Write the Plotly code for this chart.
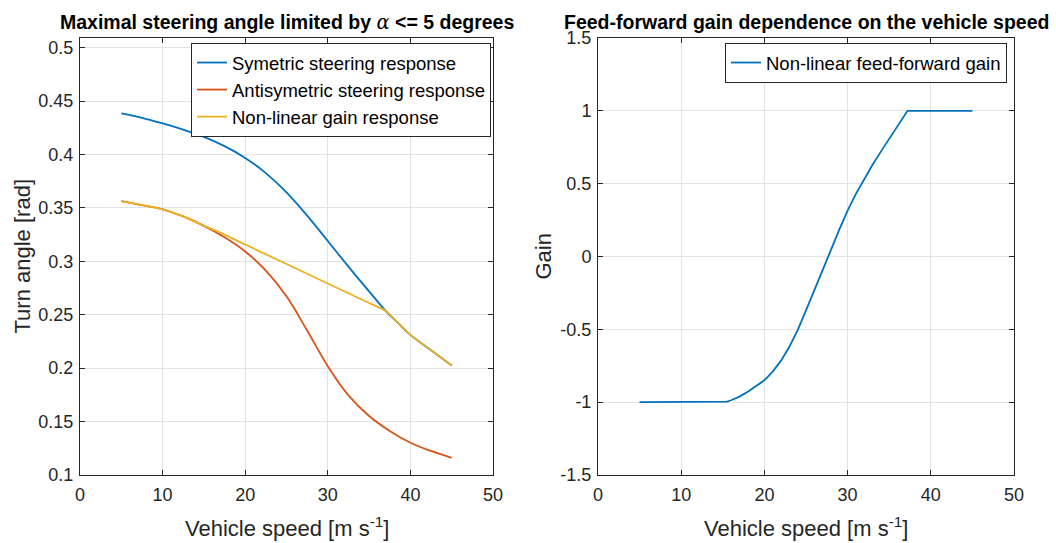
import plotly.graph_objects as go

# ---------------- data ----------------
speed_sym = [5, 7.5, 10, 12.5, 15, 17.5, 20, 22.5, 25, 27.5, 30, 32.5, 35, 37, 38.5, 40, 42.5, 45]
angle_sym = [0.4385, 0.4343, 0.429, 0.4232, 0.4165, 0.4078, 0.3968, 0.3825, 0.3645, 0.3428,
             0.319, 0.295, 0.2718, 0.2537, 0.2423, 0.2312, 0.2167, 0.2025]

speed_anti = [5, 7.5, 10, 12.5, 15, 17.5, 20, 22.5, 25, 27.5, 30, 32.5, 35, 37.5, 40, 42.5, 45]
angle_anti = [0.3563, 0.3525, 0.3487, 0.342, 0.3332, 0.3225, 0.3092, 0.2912, 0.2672, 0.2352,
              0.2018, 0.1745, 0.1552, 0.1412, 0.1302, 0.1225, 0.116]

speed_nl = [5, 7.5, 10, 12.5, 15, 16.5, 20, 25, 30, 35, 37, 38.5, 40, 42.5, 45]
angle_nl = [0.3563, 0.3525, 0.3487, 0.342, 0.3332, 0.3285, 0.3157, 0.2975, 0.2792, 0.261,
            0.2537, 0.2423, 0.2312, 0.2167, 0.2025]

speed_gain = [5, 15, 15.5, 16, 17, 18, 19, 20, 21, 22, 23, 24, 25, 26, 27, 28, 29, 30, 31, 32, 33,
              34, 35, 36, 37, 37.2, 45]
gain = [-1, -1, -0.996, -0.987, -0.962, -0.929, -0.892, -0.85, -0.79, -0.715, -0.62, -0.505,
        -0.37, -0.235, -0.095, 0.045, 0.185, 0.315, 0.43, 0.535, 0.63, 0.72, 0.81, 0.9, 0.99,
        1.0, 1.0]

left_yticks = [0.1, 0.15, 0.2, 0.25, 0.3, 0.35, 0.4, 0.45, 0.5]
left_ytext = ["0.1", "0.15", "0.2", "0.25", "0.3", "0.35", "0.4", "0.45", "0.5"]
right_yticks = [-1.5, -1, -0.5, 0, 0.5, 1, 1.5]
right_ytext = ["-1.5", "-1", "-0.5", "0", "0.5", "1", "1.5"]
xticks = [0, 10, 20, 30, 40, 50]

# ---------------- style ----------------
BLUE, ORANGE, YELLOW = "#0072BD", "#D95319", "#EDB120"
AX = "#262626"
GRID = "#e3e3e3"
FONT = "Liberation Sans, Arial, Helvetica, sans-serif"
W, H = 1056, 543

fig = go.Figure()
fig.add_trace(go.Scatter(x=speed_sym, y=angle_sym, mode="lines", name="Symetric steering response",
                         line=dict(color=BLUE, width=1.8, shape="spline"), xaxis="x", yaxis="y",
                         legend="legend"))
fig.add_trace(go.Scatter(x=speed_anti, y=angle_anti, mode="lines", name="Antisymetric steering response",
                         line=dict(color=ORANGE, width=1.8, shape="spline"), xaxis="x", yaxis="y",
                         legend="legend"))
fig.add_trace(go.Scatter(x=speed_nl, y=angle_nl, mode="lines", name="Non-linear gain response",
                         line=dict(color=YELLOW, width=1.8, shape="spline", smoothing=0.6),
                         xaxis="x", yaxis="y", legend="legend"))
fig.add_trace(go.Scatter(x=speed_gain, y=gain, mode="lines", name="Non-linear feed-forward gain",
                         line=dict(color=BLUE, width=1.8), xaxis="x2", yaxis="y2", legend="legend2"))


def px_x(p):
    return p / W


def px_y(p):
    return 1 - p / H


ydom = [px_y(475), px_y(38)]
axis_common = dict(showline=True, linecolor=AX, linewidth=1, mirror="ticks", ticks="inside",
                   ticklen=5, tickcolor=AX, showgrid=True, gridcolor=GRID, gridwidth=1,
                   zeroline=False, automargin=False,
                   tickfont=dict(family=FONT, size=18, color=AX))

fig.update_layout(
    template="none",
    width=W, height=H,
    margin=dict(l=0, r=0, t=0, b=0, pad=0, autoexpand=False),
    paper_bgcolor="white", plot_bgcolor="white",
    font=dict(family=FONT, color=AX),
    xaxis=dict(domain=[px_x(80), px_x(493)], range=[0, 50], tickvals=xticks, anchor="y",
               ticklabelstandoff=3, **axis_common),
    yaxis=dict(domain=ydom, range=[0.1, 0.509], tickvals=left_yticks, ticktext=left_ytext,
               anchor="x", ticklabelstandoff=2, **axis_common),
    xaxis2=dict(domain=[px_x(598), px_x(1014)], range=[0, 50], tickvals=xticks, anchor="y2",
                ticklabelstandoff=3, **axis_common),
    yaxis2=dict(domain=ydom, range=[-1.5, 1.5], tickvals=right_yticks, ticktext=right_ytext,
                anchor="x2", ticklabelstandoff=2, **axis_common),
    legend=dict(x=px_x(491), y=px_y(43), xanchor="right", yanchor="top",
                bordercolor=AX, borderwidth=1, bgcolor="white",
                font=dict(family=FONT, size=18.5, color="black"), tracegroupgap=0),
    legend2=dict(x=px_x(1007), y=px_y(43), xanchor="right", yanchor="top",
                 bordercolor=AX, borderwidth=1, bgcolor="white",
                 font=dict(family=FONT, size=18.5, color="black")),
    showlegend=True,
    hovermode=False,
)

ann = []
ann.append(dict(text="<b>Maximal steering angle limited by </b>"
                     "<span style=\"font-family:'DejaVu Serif', serif\"><i>α</i></span>"
                     "<b> <= 5 degrees</b>",
                x=px_x(286.5), y=px_y(22), xref="paper", yref="paper", showarrow=False,
                xanchor="center", yanchor="middle", font=dict(family=FONT, size=19.5, color="black")))
ann.append(dict(text="<b>Feed-forward gain dependence on the vehicle speed</b>",
                x=px_x(806), y=px_y(22), xref="paper", yref="paper", showarrow=False,
                xanchor="center", yanchor="middle", font=dict(family=FONT, size=19.5, color="black")))
for cx in (286.5, 806):
    ann.append(dict(text="Vehicle speed [m s<sup>-1</sup>]", x=px_x(cx), y=px_y(527),
                    xref="paper", yref="paper", showarrow=False, xanchor="center",
                    yanchor="middle", font=dict(family=FONT, size=22, color=AX)))
ann.append(dict(text="Turn angle [rad]", x=px_x(22), y=px_y(256.5), xref="paper", yref="paper",
                showarrow=False, textangle=-90, xanchor="center", yanchor="middle",
                font=dict(family=FONT, size=22, color=AX)))
ann.append(dict(text="Gain", x=px_x(543), y=px_y(256.5), xref="paper", yref="paper",
                showarrow=False, textangle=-90, xanchor="center", yanchor="middle",
                font=dict(family=FONT, size=22, color=AX)))
fig.update_layout(annotations=ann)

fig.write_html("out.html")
